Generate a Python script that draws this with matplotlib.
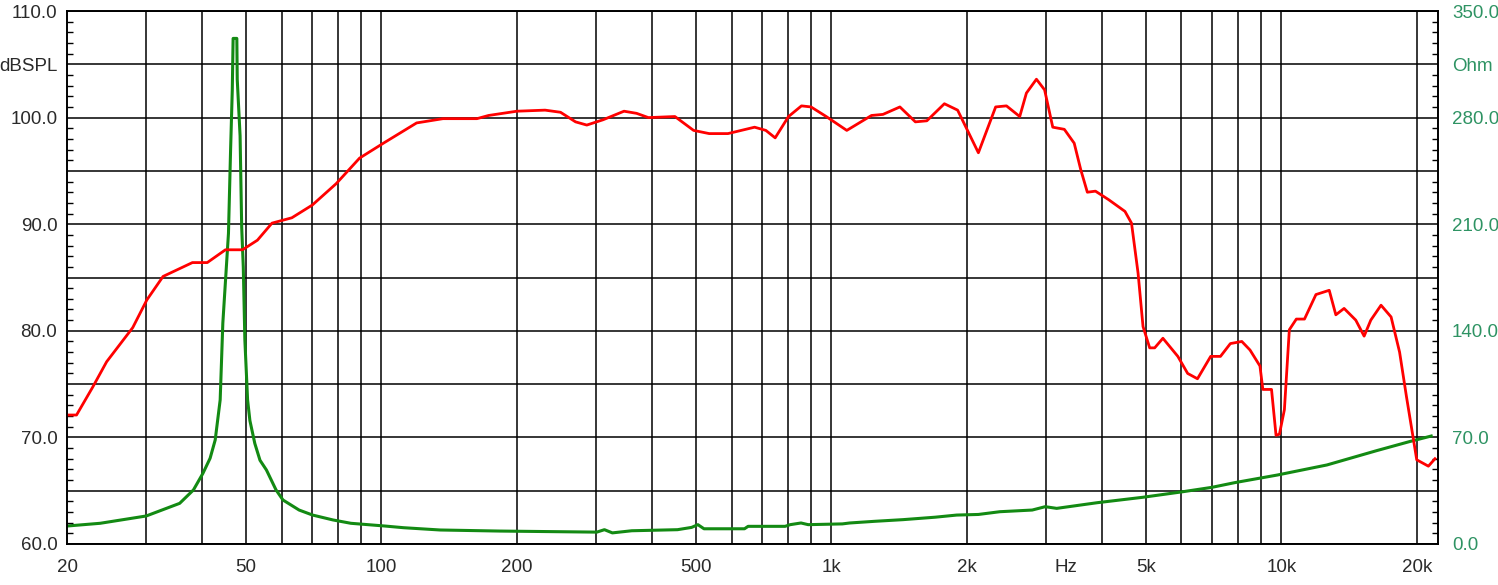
import matplotlib
matplotlib.use("Agg")
import matplotlib.pyplot as plt
from matplotlib.ticker import FixedLocator, NullFormatter

plt.rcParams['font.family'] = ['Liberation Sans', 'DejaVu Sans']

# ---- data: SPL (red, left axis) ----
spl_freq = [20, 21, 22.8, 24.5, 28.0, 30.1, 32.7, 38.0, 41.0, 45.0, 49.1, 53.0, 57.1, 63.2,
            70.2, 79.3, 89.4, 101, 119.7, 137, 163, 173, 200, 231, 250, 270, 286, 311,
            346, 369, 392, 449, 494, 535, 589, 675, 715, 750, 803, 858, 901, 974, 1082,
            1228, 1302, 1420, 1537, 1630, 1783, 1908, 2122, 2318, 2450, 2622, 2713, 2856,
            2978, 3105, 3294, 3465, 3584, 3706, 3863, 4133, 4493, 4646, 4805, 4928, 5099,
            5231, 5456, 5889, 6193, 6512, 6967, 7325, 7705, 8170, 8520, 8965, 9100, 9512,
            9734, 9905, 10160, 10420, 10800, 11260, 11940, 12780, 13220, 13790, 14640,
            15280, 15810, 16660, 17540, 18320, 18980, 19650, 20000, 21230, 21960]
spl_db = [72.1, 72.1, 74.7, 77.1, 80.3, 82.9, 85.1, 86.4, 86.4, 87.6, 87.6, 88.5, 90.1, 90.6,
          91.8, 93.8, 96.2, 97.6, 99.5, 99.9, 99.9, 100.2, 100.6, 100.7, 100.5, 99.6, 99.3, 99.8,
          100.6, 100.4, 100.0, 100.1, 98.8, 98.5, 98.5, 99.1, 98.8, 98.1, 100.1, 101.1, 101.0, 100.1, 98.8,
          100.2, 100.3, 101.0, 99.6, 99.7, 101.3, 100.7, 96.7, 101.0, 101.1, 100.1, 102.3, 103.6,
          102.6, 99.1, 98.9, 97.6, 95.1, 93.0, 93.1, 92.3, 91.2, 90.1, 85.4, 80.4, 78.4,
          78.4, 79.3, 77.6, 76.0, 75.5, 77.6, 77.6, 78.8, 79.0, 78.2, 76.7, 74.5, 74.5,
          70.2, 70.3, 72.6, 80.1, 81.1, 81.1, 83.4, 83.8, 81.5, 82.1, 81.0,
          79.5, 81.0, 82.4, 81.3, 78.0, 73.8, 69.9, 67.9, 67.3, 68.0]

# ---- data: impedance (green, right axis) ----
imp_freq = [20, 23.7, 30, 35.6, 38.2, 40.1, 41.6, 42.7, 43.8, 44.4, 45.7, 46.2, 46.6, 46.8,
            47.7, 47.8, 48.5, 48.9, 49.3, 49.7, 50.4, 51.0, 52.3, 53.7, 55.5, 58.3, 60.4, 65.6,
            70.3, 78, 85.5, 101.8, 112, 135, 183, 301, 313, 326, 360, 455, 489, 505, 521,
            641, 653, 789, 810, 856, 888, 1058, 1098, 1248, 1444, 1701, 1899, 2122, 2368,
            2795, 2987, 3168, 3894, 4929, 6034, 7010, 7884, 9802, 12630, 16290, 19250, 21540]
impedance = [11.8, 13.6, 18.4, 26.7, 35.5, 46.4, 56.3, 68.3, 94.6, 145, 204, 259, 298, 332,
             332, 305, 268, 208, 182, 134, 94.6, 81, 66, 55, 48.6, 35.5, 28.9, 22.3,
             19, 15.8, 13.6, 11.8, 10.7, 9.2, 8.5, 7.8, 9.4, 7.3, 8.7, 9.4, 10.9, 12.7, 10.0,
             10.0, 11.6, 11.6, 12.7, 13.8, 12.7, 13.2, 13.8, 14.9, 16.0, 17.6, 19.0, 19.4, 21.2,
             22.3, 24.5, 23.4, 27.1, 30.7, 34.3, 37.2, 40.3, 45.3, 51.9, 61.3, 67.2, 70.9]

# ---- axis labels ----
x_tick_pos = [20, 50, 100, 200, 500, 1000, 2000, 3320, 5000, 10000, 20000]
x_tick_lab = ['20', '50', '100', '200', '500', '1k', '2k', 'Hz', '5k', '10k', '20k']
x_grid = [30, 40, 50, 60, 70, 80, 90, 100, 200, 300, 400, 500, 600, 700, 800, 900,
          1000, 2000, 3000, 4000, 5000, 6000, 7000, 8000, 9000, 10000, 20000]
db_ticks = [60, 65, 70, 75, 80, 85, 90, 95, 100, 105, 110]
db_labels = ['60.0', '', '70.0', '', '80.0', '', '90.0', '', '100.0', 'dBSPL', '110.0']
ohm_ticks = [0, 35, 70, 105, 140, 175, 210, 245, 280, 315, 350]
ohm_labels = ['0.0', '', '70.0', '', '140.0', '', '210.0', '', '280.0', 'Ohm', '350.0']

W, H = 1498, 585
fig = plt.figure(figsize=(W / 100, H / 100), dpi=100)
L, R, T, B = 67, 1438, 11, 544
ax = fig.add_axes([L / W, (H - B) / H, (R - L) / W, (B - T) / H])
ax2 = ax.twinx()
ax.set_zorder(2)
ax2.set_zorder(1)
ax.patch.set_visible(False)
ax2.xaxis.set_visible(True)
ax.xaxis.remove_overlapping_locs = False
ax2.xaxis.remove_overlapping_locs = False

ax.set_xscale('log')
ax.set_xlim(20, 22300)
ax.set_ylim(60, 110)
ax2.set_ylim(0, 350)

label_color = '#2a2a2a'
ohm_color = '#2e9363'
fs = 13.5

# x ticks
ax.xaxis.set_major_locator(FixedLocator(x_tick_pos))
ax.set_xticklabels(x_tick_lab)
ax.xaxis.set_minor_locator(FixedLocator(x_grid))
ax.xaxis.set_minor_formatter(NullFormatter())
ax.tick_params(axis='x', which='both', length=0, pad=11, labelsize=fs, labelcolor=label_color)
ax2.tick_params(axis='x', which='both', length=0, labelbottom=False, labeltop=False)

# left y ticks
ax.set_yticks(db_ticks)
ax.set_yticklabels(db_labels)
ax.yaxis.set_minor_locator(FixedLocator(list(range(60, 111))))
ax.tick_params(axis='y', which='major', length=0, pad=7, labelsize=fs, labelcolor=label_color)
ax.tick_params(axis='y', which='minor', direction='in', length=4, width=1.0, color='black', left=True, right=False)

# right y ticks
ax2.set_yticks(ohm_ticks)
ax2.set_yticklabels(ohm_labels)
ax2.yaxis.set_minor_locator(FixedLocator(list(range(0, 351, 7))))
ax2.tick_params(axis='y', which='major', length=0, pad=10, labelsize=fs, labelcolor=ohm_color)
ax2.tick_params(axis='y', which='minor', direction='in', length=4, width=1.0, color='black', right=True, left=False)

# grid drawn on the lower (impedance) axes so both curves sit on top
ax2.yaxis.grid(True, which='major', color='black', linewidth=1.1)
ax2.xaxis.grid(True, which='minor', color='black', linewidth=1.1)
ax2.xaxis.grid(False, which='major')
ax.grid(False)

for a in (ax, ax2):
    for s in a.spines.values():
        s.set_linewidth(1.2)
        s.set_color('black')

ax2.plot(imp_freq, impedance, color='#138a13', linewidth=2.2)
ax.plot(spl_freq, spl_db, color='#ff0000', linewidth=2.0)

fig.savefig('out.png', dpi=100)
